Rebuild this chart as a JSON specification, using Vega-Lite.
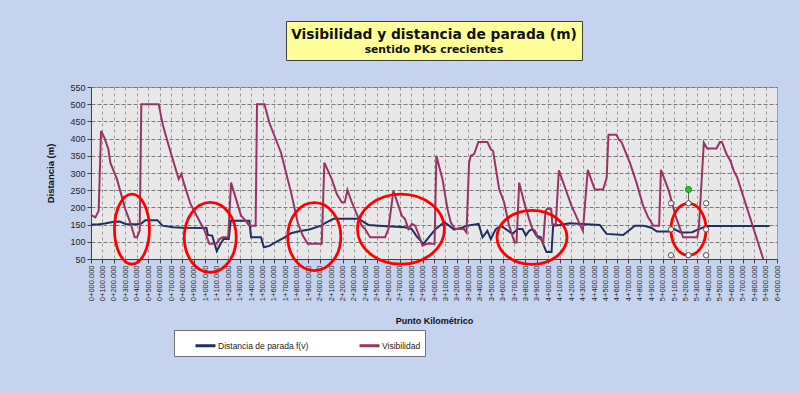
{
  "$schema": "https://vega.github.io/schema/vega-lite/v6.json",
  "background": "#C5D3EE",
  "padding": {"left": 45, "top": 20, "right": 20, "bottom": 43},
  "bounds": "flush",
  "center": true,
  "spacing": 27,
  "config": {
    "font": "Liberation Sans",
    "axis": {"labelFont": "Liberation Sans", "titleFont": "Liberation Sans", "labelColor": "#262626", "titleColor": "#111111", "domainColor": "#404040", "tickColor": "#404040", "domainWidth": 1, "tickWidth": 1},
    "legend": {"labelFont": "Liberation Sans", "titleFont": "Liberation Sans"}
  },
  "datasets": {
    "titulos": [
      {"linea": 1, "texto": "Visibilidad y distancia de parada (m)"},
      {"linea": 2, "texto": "sentido PKs crecientes"}
    ],
    "lineas": [
      {"pk": 0, "valor": 150, "serie": "Distancia de parada f(v)"},
      {"pk": 60, "valor": 150, "serie": "Distancia de parada f(v)"},
      {"pk": 120, "valor": 153, "serie": "Distancia de parada f(v)"},
      {"pk": 200, "valor": 158, "serie": "Distancia de parada f(v)"},
      {"pk": 250, "valor": 159, "serie": "Distancia de parada f(v)"},
      {"pk": 310, "valor": 151, "serie": "Distancia de parada f(v)"},
      {"pk": 400, "valor": 151, "serie": "Distancia de parada f(v)"},
      {"pk": 440, "valor": 153, "serie": "Distancia de parada f(v)"},
      {"pk": 475, "valor": 163, "serie": "Distancia de parada f(v)"},
      {"pk": 580, "valor": 163, "serie": "Distancia de parada f(v)"},
      {"pk": 625, "valor": 147, "serie": "Distancia de parada f(v)"},
      {"pk": 720, "valor": 142, "serie": "Distancia de parada f(v)"},
      {"pk": 800, "valor": 141, "serie": "Distancia de parada f(v)"},
      {"pk": 1010, "valor": 140, "serie": "Distancia de parada f(v)"},
      {"pk": 1022, "valor": 120, "serie": "Distancia de parada f(v)"},
      {"pk": 1060, "valor": 118, "serie": "Distancia de parada f(v)"},
      {"pk": 1100, "valor": 73, "serie": "Distancia de parada f(v)"},
      {"pk": 1135, "valor": 95, "serie": "Distancia de parada f(v)"},
      {"pk": 1160, "valor": 108, "serie": "Distancia de parada f(v)"},
      {"pk": 1205, "valor": 108, "serie": "Distancia de parada f(v)"},
      {"pk": 1222, "valor": 161, "serie": "Distancia de parada f(v)"},
      {"pk": 1385, "valor": 161, "serie": "Distancia de parada f(v)"},
      {"pk": 1400, "valor": 113, "serie": "Distancia de parada f(v)"},
      {"pk": 1487, "valor": 113, "serie": "Distancia de parada f(v)"},
      {"pk": 1512, "valor": 84, "serie": "Distancia de parada f(v)"},
      {"pk": 1560, "valor": 88, "serie": "Distancia de parada f(v)"},
      {"pk": 1620, "valor": 100, "serie": "Distancia de parada f(v)"},
      {"pk": 1690, "valor": 112, "serie": "Distancia de parada f(v)"},
      {"pk": 1750, "valor": 125, "serie": "Distancia de parada f(v)"},
      {"pk": 1808, "valor": 130, "serie": "Distancia de parada f(v)"},
      {"pk": 1910, "valor": 136, "serie": "Distancia de parada f(v)"},
      {"pk": 2012, "valor": 147, "serie": "Distancia de parada f(v)"},
      {"pk": 2047, "valor": 154, "serie": "Distancia de parada f(v)"},
      {"pk": 2120, "valor": 167, "serie": "Distancia de parada f(v)"},
      {"pk": 2339, "valor": 167, "serie": "Distancia de parada f(v)"},
      {"pk": 2426, "valor": 149, "serie": "Distancia de parada f(v)"},
      {"pk": 2550, "valor": 146, "serie": "Distancia de parada f(v)"},
      {"pk": 2747, "valor": 142, "serie": "Distancia de parada f(v)"},
      {"pk": 2806, "valor": 137, "serie": "Distancia de parada f(v)"},
      {"pk": 2849, "valor": 116, "serie": "Distancia de parada f(v)"},
      {"pk": 2908, "valor": 94, "serie": "Distancia de parada f(v)"},
      {"pk": 2966, "valor": 118, "serie": "Distancia de parada f(v)"},
      {"pk": 3015, "valor": 137, "serie": "Distancia de parada f(v)"},
      {"pk": 3090, "valor": 157, "serie": "Distancia de parada f(v)"},
      {"pk": 3132, "valor": 147, "serie": "Distancia de parada f(v)"},
      {"pk": 3176, "valor": 135, "serie": "Distancia de parada f(v)"},
      {"pk": 3249, "valor": 142, "serie": "Distancia de parada f(v)"},
      {"pk": 3292, "valor": 147, "serie": "Distancia de parada f(v)"},
      {"pk": 3390, "valor": 152, "serie": "Distancia de parada f(v)"},
      {"pk": 3425, "valor": 113, "serie": "Distancia de parada f(v)"},
      {"pk": 3467, "valor": 132, "serie": "Distancia de parada f(v)"},
      {"pk": 3497, "valor": 108, "serie": "Distancia de parada f(v)"},
      {"pk": 3540, "valor": 137, "serie": "Distancia de parada f(v)"},
      {"pk": 3584, "valor": 147, "serie": "Distancia de parada f(v)"},
      {"pk": 3628, "valor": 137, "serie": "Distancia de parada f(v)"},
      {"pk": 3686, "valor": 123, "serie": "Distancia de parada f(v)"},
      {"pk": 3730, "valor": 137, "serie": "Distancia de parada f(v)"},
      {"pk": 3774, "valor": 137, "serie": "Distancia de parada f(v)"},
      {"pk": 3803, "valor": 118, "serie": "Distancia de parada f(v)"},
      {"pk": 3832, "valor": 132, "serie": "Distancia de parada f(v)"},
      {"pk": 3861, "valor": 137, "serie": "Distancia de parada f(v)"},
      {"pk": 3896, "valor": 118, "serie": "Distancia de parada f(v)"},
      {"pk": 3934, "valor": 113, "serie": "Distancia de parada f(v)"},
      {"pk": 3960, "valor": 89, "serie": "Distancia de parada f(v)"},
      {"pk": 3984, "valor": 70, "serie": "Distancia de parada f(v)"},
      {"pk": 4028, "valor": 70, "serie": "Distancia de parada f(v)"},
      {"pk": 4042, "valor": 147, "serie": "Distancia de parada f(v)"},
      {"pk": 4100, "valor": 149, "serie": "Distancia de parada f(v)"},
      {"pk": 4188, "valor": 154, "serie": "Distancia de parada f(v)"},
      {"pk": 4450, "valor": 149, "serie": "Distancia de parada f(v)"},
      {"pk": 4509, "valor": 123, "serie": "Distancia de parada f(v)"},
      {"pk": 4655, "valor": 120, "serie": "Distancia de parada f(v)"},
      {"pk": 4757, "valor": 147, "serie": "Distancia de parada f(v)"},
      {"pk": 4829, "valor": 147, "serie": "Distancia de parada f(v)"},
      {"pk": 4900, "valor": 141, "serie": "Distancia de parada f(v)"},
      {"pk": 4950, "valor": 130, "serie": "Distancia de parada f(v)"},
      {"pk": 5060, "valor": 130, "serie": "Distancia de parada f(v)"},
      {"pk": 5100, "valor": 137, "serie": "Distancia de parada f(v)"},
      {"pk": 5160, "valor": 127, "serie": "Distancia de parada f(v)"},
      {"pk": 5258, "valor": 128, "serie": "Distancia de parada f(v)"},
      {"pk": 5316, "valor": 137, "serie": "Distancia de parada f(v)"},
      {"pk": 5389, "valor": 146, "serie": "Distancia de parada f(v)"},
      {"pk": 5935, "valor": 146, "serie": "Distancia de parada f(v)"},
      {"pk": 0, "valor": 178, "serie": "Visibilidad"},
      {"pk": 38, "valor": 171, "serie": "Visibilidad"},
      {"pk": 67, "valor": 190, "serie": "Visibilidad"},
      {"pk": 88, "valor": 422, "serie": "Visibilidad"},
      {"pk": 117, "valor": 403, "serie": "Visibilidad"},
      {"pk": 152, "valor": 369, "serie": "Visibilidad"},
      {"pk": 169, "valor": 330, "serie": "Visibilidad"},
      {"pk": 227, "valor": 282, "serie": "Visibilidad"},
      {"pk": 300, "valor": 195, "serie": "Visibilidad"},
      {"pk": 344, "valor": 156, "serie": "Visibilidad"},
      {"pk": 382, "valor": 113, "serie": "Visibilidad"},
      {"pk": 402, "valor": 113, "serie": "Visibilidad"},
      {"pk": 426, "valor": 132, "serie": "Visibilidad"},
      {"pk": 440, "valor": 500, "serie": "Visibilidad"},
      {"pk": 592, "valor": 500, "serie": "Visibilidad"},
      {"pk": 630, "valor": 437, "serie": "Visibilidad"},
      {"pk": 680, "valor": 379, "serie": "Visibilidad"},
      {"pk": 767, "valor": 282, "serie": "Visibilidad"},
      {"pk": 790, "valor": 297, "serie": "Visibilidad"},
      {"pk": 811, "valor": 272, "serie": "Visibilidad"},
      {"pk": 870, "valor": 210, "serie": "Visibilidad"},
      {"pk": 950, "valor": 160, "serie": "Visibilidad"},
      {"pk": 990, "valor": 135, "serie": "Visibilidad"},
      {"pk": 1035, "valor": 94, "serie": "Visibilidad"},
      {"pk": 1095, "valor": 94, "serie": "Visibilidad"},
      {"pk": 1125, "valor": 108, "serie": "Visibilidad"},
      {"pk": 1150, "valor": 113, "serie": "Visibilidad"},
      {"pk": 1200, "valor": 113, "serie": "Visibilidad"},
      {"pk": 1225, "valor": 272, "serie": "Visibilidad"},
      {"pk": 1269, "valor": 224, "serie": "Visibilidad"},
      {"pk": 1312, "valor": 176, "serie": "Visibilidad"},
      {"pk": 1341, "valor": 166, "serie": "Visibilidad"},
      {"pk": 1385, "valor": 147, "serie": "Visibilidad"},
      {"pk": 1440, "valor": 147, "serie": "Visibilidad"},
      {"pk": 1452, "valor": 500, "serie": "Visibilidad"},
      {"pk": 1517, "valor": 500, "serie": "Visibilidad"},
      {"pk": 1560, "valor": 446, "serie": "Visibilidad"},
      {"pk": 1662, "valor": 359, "serie": "Visibilidad"},
      {"pk": 1750, "valor": 243, "serie": "Visibilidad"},
      {"pk": 1808, "valor": 156, "serie": "Visibilidad"},
      {"pk": 1852, "valor": 118, "serie": "Visibilidad"},
      {"pk": 1896, "valor": 94, "serie": "Visibilidad"},
      {"pk": 2018, "valor": 94, "serie": "Visibilidad"},
      {"pk": 2041, "valor": 330, "serie": "Visibilidad"},
      {"pk": 2106, "valor": 282, "serie": "Visibilidad"},
      {"pk": 2150, "valor": 239, "serie": "Visibilidad"},
      {"pk": 2193, "valor": 215, "serie": "Visibilidad"},
      {"pk": 2220, "valor": 215, "serie": "Visibilidad"},
      {"pk": 2243, "valor": 251, "serie": "Visibilidad"},
      {"pk": 2281, "valor": 215, "serie": "Visibilidad"},
      {"pk": 2324, "valor": 181, "serie": "Visibilidad"},
      {"pk": 2368, "valor": 147, "serie": "Visibilidad"},
      {"pk": 2397, "valor": 137, "serie": "Visibilidad"},
      {"pk": 2441, "valor": 113, "serie": "Visibilidad"},
      {"pk": 2572, "valor": 113, "serie": "Visibilidad"},
      {"pk": 2601, "valor": 137, "serie": "Visibilidad"},
      {"pk": 2645, "valor": 248, "serie": "Visibilidad"},
      {"pk": 2689, "valor": 205, "serie": "Visibilidad"},
      {"pk": 2718, "valor": 176, "serie": "Visibilidad"},
      {"pk": 2747, "valor": 166, "serie": "Visibilidad"},
      {"pk": 2776, "valor": 137, "serie": "Visibilidad"},
      {"pk": 2806, "valor": 152, "serie": "Visibilidad"},
      {"pk": 2835, "valor": 147, "serie": "Visibilidad"},
      {"pk": 2864, "valor": 123, "serie": "Visibilidad"},
      {"pk": 2899, "valor": 89, "serie": "Visibilidad"},
      {"pk": 2937, "valor": 94, "serie": "Visibilidad"},
      {"pk": 3005, "valor": 94, "serie": "Visibilidad"},
      {"pk": 3021, "valor": 350, "serie": "Visibilidad"},
      {"pk": 3074, "valor": 282, "serie": "Visibilidad"},
      {"pk": 3118, "valor": 195, "serie": "Visibilidad"},
      {"pk": 3147, "valor": 156, "serie": "Visibilidad"},
      {"pk": 3185, "valor": 137, "serie": "Visibilidad"},
      {"pk": 3263, "valor": 137, "serie": "Visibilidad"},
      {"pk": 3284, "valor": 127, "serie": "Visibilidad"},
      {"pk": 3307, "valor": 330, "serie": "Visibilidad"},
      {"pk": 3322, "valor": 350, "serie": "Visibilidad"},
      {"pk": 3351, "valor": 355, "serie": "Visibilidad"},
      {"pk": 3388, "valor": 390, "serie": "Visibilidad"},
      {"pk": 3467, "valor": 390, "serie": "Visibilidad"},
      {"pk": 3497, "valor": 369, "serie": "Visibilidad"},
      {"pk": 3517, "valor": 364, "serie": "Visibilidad"},
      {"pk": 3570, "valor": 253, "serie": "Visibilidad"},
      {"pk": 3613, "valor": 215, "serie": "Visibilidad"},
      {"pk": 3657, "valor": 147, "serie": "Visibilidad"},
      {"pk": 3705, "valor": 98, "serie": "Visibilidad"},
      {"pk": 3722, "valor": 98, "serie": "Visibilidad"},
      {"pk": 3745, "valor": 272, "serie": "Visibilidad"},
      {"pk": 3788, "valor": 215, "serie": "Visibilidad"},
      {"pk": 3832, "valor": 166, "serie": "Visibilidad"},
      {"pk": 3861, "valor": 137, "serie": "Visibilidad"},
      {"pk": 3884, "valor": 132, "serie": "Visibilidad"},
      {"pk": 3905, "valor": 113, "serie": "Visibilidad"},
      {"pk": 3934, "valor": 108, "serie": "Visibilidad"},
      {"pk": 3955, "valor": 95, "serie": "Visibilidad"},
      {"pk": 3975, "valor": 190, "serie": "Visibilidad"},
      {"pk": 3995, "valor": 197, "serie": "Visibilidad"},
      {"pk": 4025, "valor": 195, "serie": "Visibilidad"},
      {"pk": 4035, "valor": 150, "serie": "Visibilidad"},
      {"pk": 4065, "valor": 150, "serie": "Visibilidad"},
      {"pk": 4092, "valor": 308, "serie": "Visibilidad"},
      {"pk": 4202, "valor": 205, "serie": "Visibilidad"},
      {"pk": 4302, "valor": 132, "serie": "Visibilidad"},
      {"pk": 4345, "valor": 309, "serie": "Visibilidad"},
      {"pk": 4406, "valor": 252, "serie": "Visibilidad"},
      {"pk": 4479, "valor": 252, "serie": "Visibilidad"},
      {"pk": 4510, "valor": 285, "serie": "Visibilidad"},
      {"pk": 4526, "valor": 411, "serie": "Visibilidad"},
      {"pk": 4596, "valor": 411, "serie": "Visibilidad"},
      {"pk": 4619, "valor": 396, "serie": "Visibilidad"},
      {"pk": 4640, "valor": 390, "serie": "Visibilidad"},
      {"pk": 4713, "valor": 330, "serie": "Visibilidad"},
      {"pk": 4771, "valor": 272, "serie": "Visibilidad"},
      {"pk": 4829, "valor": 205, "serie": "Visibilidad"},
      {"pk": 4873, "valor": 171, "serie": "Visibilidad"},
      {"pk": 4902, "valor": 156, "serie": "Visibilidad"},
      {"pk": 4917, "valor": 147, "serie": "Visibilidad"},
      {"pk": 4969, "valor": 147, "serie": "Visibilidad"},
      {"pk": 4985, "valor": 309, "serie": "Visibilidad"},
      {"pk": 5054, "valor": 248, "serie": "Visibilidad"},
      {"pk": 5112, "valor": 176, "serie": "Visibilidad"},
      {"pk": 5179, "valor": 113, "serie": "Visibilidad"},
      {"pk": 5302, "valor": 113, "serie": "Visibilidad"},
      {"pk": 5316, "valor": 137, "serie": "Visibilidad"},
      {"pk": 5360, "valor": 388, "serie": "Visibilidad"},
      {"pk": 5389, "valor": 371, "serie": "Visibilidad"},
      {"pk": 5471, "valor": 371, "serie": "Visibilidad"},
      {"pk": 5500, "valor": 390, "serie": "Visibilidad"},
      {"pk": 5519, "valor": 390, "serie": "Visibilidad"},
      {"pk": 5558, "valor": 355, "serie": "Visibilidad"},
      {"pk": 5593, "valor": 335, "serie": "Visibilidad"},
      {"pk": 5622, "valor": 306, "serie": "Visibilidad"},
      {"pk": 5652, "valor": 287, "serie": "Visibilidad"},
      {"pk": 5880, "valor": 50, "serie": "Visibilidad"}
    ],
    "elipses": [
      {"pk": 358, "valor": 137, "id": "e1"},
      {"pk": 1043, "valor": 113, "id": "e2"},
      {"pk": 1953, "valor": 115, "id": "e3"},
      {"pk": 2711, "valor": 137, "id": "e4"},
      {"pk": 3857, "valor": 113, "id": "e5"},
      {"pk": 5226, "valor": 136, "id": "e6"}
    ],
    "manijas": [
      {"pk": 5073, "valor": 212},
      {"pk": 5226, "valor": 212},
      {"pk": 5380, "valor": 212},
      {"pk": 5073, "valor": 136},
      {"pk": 5380, "valor": 136},
      {"pk": 5073, "valor": 61},
      {"pk": 5226, "valor": 61},
      {"pk": 5380, "valor": 61}
    ],
    "rotacion": [
      {"pk": 5226, "valor": 252, "valor2": 212}
    ]
  },
  "vconcat": [
    {
      "width": 296,
      "height": 39,
      "view": {"fill": "#FFFF99", "stroke": "#404040", "strokeWidth": 1},
      "data": {"name": "titulos"},
      "encoding": {
        "y": {"field": "linea", "type": "ordinal", "scale": {"type": "point", "padding": 0.8, "align": 0.58}, "axis": null},
        "text": {"field": "texto"}
      },
      "layer": [
        {"transform": [{"filter": "datum.linea == 1"}], "mark": {"type": "text", "font": "DejaVu Sans", "fontWeight": "bold", "fontSize": 13.8, "color": "#111111", "baseline": "middle"}},
        {"transform": [{"filter": "datum.linea == 2"}], "mark": {"type": "text", "font": "DejaVu Sans", "fontWeight": "bold", "fontSize": 10.8, "color": "#111111", "baseline": "middle"}}
      ]
    },
    {
      "width": 686,
      "height": 172,
      "view": {"fill": "#E8E8E8", "stroke": "#A0A0A0"},
      "encoding": {
        "x": {
          "field": "pk", "type": "quantitative",
          "scale": {"domain": [0, 6000], "nice": false, "zero": false},
          "axis": {
            "title": "Punto Kilométrico",
            "values": [0,100,200,300,400,500,600,700,800,900,1000,1100,1200,1300,1400,1500,1600,1700,1800,1900,2000,2100,2200,2300,2400,2500,2600,2700,2800,2900,3000,3100,3200,3300,3400,3500,3600,3700,3800,3900,4000,4100,4200,4300,4400,4500,4600,4700,4800,4900,5000,5100,5200,5300,5400,5500,5600,5700,5800,5900,6000],
            "labelExpr": "floor(datum.value / 1000) + '+' + slice('00' + (datum.value % 1000), -3) + '.000'",
            "labelAngle": 270,
            "labelFontSize": 7.5,
            "labelOverlap": false,
            "labelFlush": false,
            "labelPadding": 2,
            "tickSize": 4,
            "grid": true,
            "gridDash": [3, 3],
            "gridColor": "#9C9C9C",
            "titleFontSize": 9,
            "titleFontWeight": "bold",
            "titlePadding": 16
          }
        },
        "y": {
          "field": "valor", "type": "quantitative",
          "scale": {"domain": [50, 550], "nice": false, "zero": false},
          "axis": {
            "title": "Distancia (m)",
            "values": [50,100,150,200,250,300,350,400,450,500,550],
            "labelFontSize": 9,
            "tickSize": 4,
            "labelPadding": 2,
            "grid": true,
            "gridDash": [4, 2],
            "gridColor": "#7A7A7A",
            "titleFontSize": 9.5,
            "titleFontWeight": "bold",
            "titlePadding": 14
          }
        }
      },
      "layer": [
        {
          "data": {"name": "lineas"},
          "mark": {"type": "line", "strokeWidth": 2},
          "encoding": {
            "color": {
              "field": "serie", "type": "nominal",
              "scale": {"domain": ["Distancia de parada f(v)", "Visibilidad"], "range": ["#1F2F5E", "#993366"]},
              "legend": {
                "orient": "none", "legendX": 83, "legendY": 309,
                "direction": "horizontal",
                "title": " ", "titleOrient": "left", "titlePadding": 16, "titleFontSize": 5,
                "symbolType": "stroke", "symbolSize": 400, "symbolStrokeWidth": 3,
                "labelFontSize": 8.5, "labelOffset": 1, "labelColor": "#222222",
                "columnPadding": 44, "padding": 4,
                "fillColor": "#FFFFFF", "strokeColor": "#707070"
              }
            }
          }
        },
        {
          "data": {"name": "elipses"},
          "mark": {"type": "point", "filled": false, "color": "#FF0000", "strokeWidth": 2.8, "opacity": 1},
          "encoding": {
            "shape": {
              "field": "id", "type": "nominal", "legend": null,
              "scale": {
                "domain": ["e1", "e2", "e3", "e4", "e5", "e6"],
                "range": [
                  "M -0.5 0 A 0.5 1 0 1 0 0.5 0 A 0.5 1 0 1 0 -0.5 0 Z",
                  "M -0.743 0 A 0.743 1 0 1 0 0.743 0 A 0.743 1 0 1 0 -0.743 0 Z",
                  "M -0.78 0 A 0.78 1 0 1 0 0.78 0 A 0.78 1 0 1 0 -0.78 0 Z",
                  "M -1 0 A 1 0.805 0 1 0 1 0 A 1 0.805 0 1 0 -1 0 Z",
                  "M -1 0 A 1 0.77 0 1 0 1 0 A 1 0.77 0 1 0 -1 0 Z",
                  "M -0.673 0 A 0.673 1 0 1 0 0.673 0 A 0.673 1 0 1 0 -0.673 0 Z"
                ]
              }
            },
            "size": {
              "field": "id", "type": "ordinal", "legend": null,
              "scale": {"type": "ordinal", "domain": ["e1", "e2", "e3", "e4", "e5", "e6"], "range": [4900, 4900, 4624, 7569, 4900, 2704]}
            }
          }
        },
        {
          "data": {"name": "rotacion"},
          "mark": {"type": "rule", "color": "#606060", "strokeWidth": 1},
          "encoding": {"y2": {"field": "valor2"}}
        },
        {
          "data": {"name": "manijas"},
          "mark": {"type": "point", "shape": "circle", "size": 28, "filled": true, "fill": "#FFFFFF", "stroke": "#505050", "strokeWidth": 1, "opacity": 1},
          "encoding": {}
        },
        {
          "data": {"name": "rotacion"},
          "mark": {"type": "point", "shape": "circle", "size": 36, "filled": true, "fill": "#22CC22", "stroke": "#1A7A1A", "strokeWidth": 1, "opacity": 1},
          "encoding": {}
        }
      ]
    }
  ]
}
